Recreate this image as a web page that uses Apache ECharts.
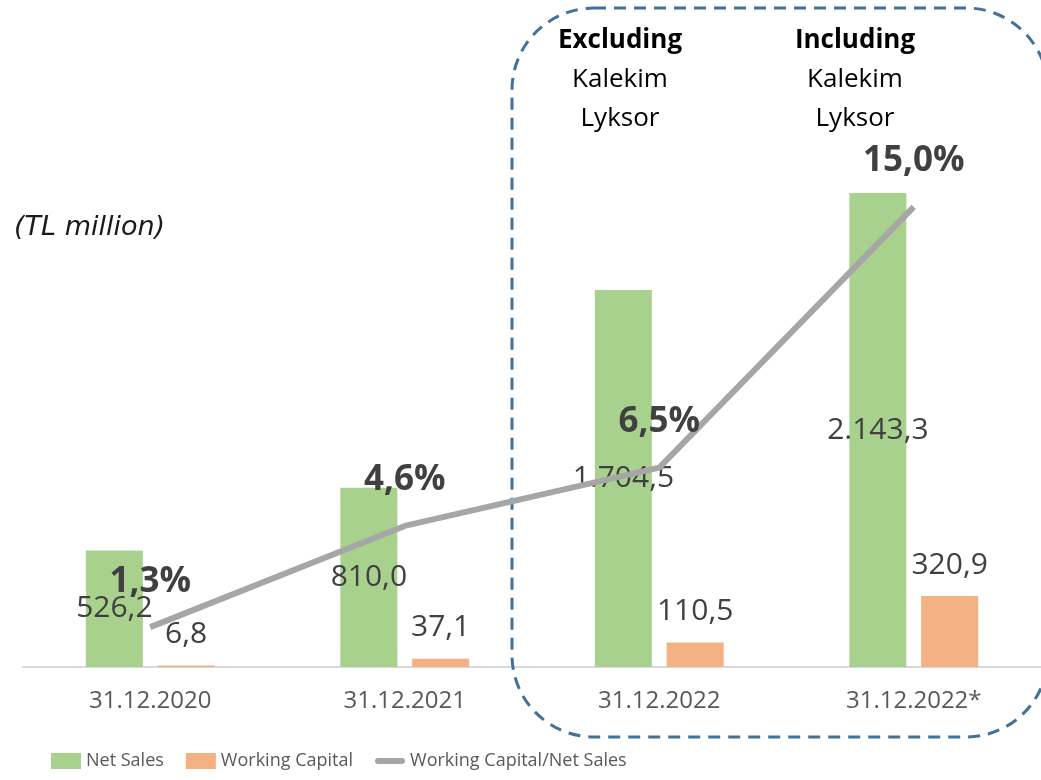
<!DOCTYPE html>
<html>
<head>
<meta charset="utf-8">
<script src="https://cdn.jsdelivr.net/npm/echarts@6/dist/echarts.min.js"></script>
<style>
  html, body { margin: 0; padding: 0; background: #fff; }
  #chart { width: 1041px; height: 780px; }
</style>
</head>
<body>
<div id="chart"></div>
<script>
const categories = ["31.12.2020", "31.12.2021", "31.12.2022", "31.12.2022*"];
const netSales = [526.2, 810.0, 1704.5, 2143.3];
const workingCapital = [6.8, 37.1, 110.5, 320.9];
const wcRatio = [1.3, 4.6, 6.5, 15.0];

// 1704.5 -> "1.704,5"
function trNum(v) {
  const parts = v.toFixed(1).split(".");
  return parts[0].replace(/\B(?=(\d{3})+(?!\d))/g, ".") + "," + parts[1];
}

const chart = echarts.init(document.getElementById("chart"));
const font = "'Open Sans', sans-serif";

const option = {
  animation: false,
  grid: { left: 23, right: -3, top: 30, bottom: 113 },
  legend: {
    bottom: 5,
    left: 46,
    itemWidth: 30,
    itemHeight: 16,
    itemGap: 22,
    textStyle: {
      color: "#595959",
      fontSize: 18,
      fontFamily: "'Liberation Sans Narrow', 'Open Sans', sans-serif",
    },
    data: [
      { name: "Net Sales", icon: "rect" },
      { name: "Working Capital", icon: "rect" },
      {
        name: "Working Capital/Net Sales",
        icon: "path://M3,6 L27,6 A3,3 0 0 1 27,12 L3,12 A3,3 0 0 1 3,6 Z",
      },
    ],
  },
  xAxis: {
    type: "category",
    data: categories,
    axisLine: { lineStyle: { color: "#d9d9d9", width: 2 } },
    axisTick: { show: false },
    axisLabel: { color: "#595959", fontSize: 24, fontFamily: font, margin: 22 },
  },
  yAxis: [
    { type: "value", min: 0, max: 2880, show: false, splitLine: { show: false } },
    { type: "value", min: 0, max: 20.77, show: false, splitLine: { show: false } },
  ],
  series: [
    {
      name: "Net Sales",
      type: "bar",
      data: netSales,
      barWidth: 57,
      barGap: "26%",
      itemStyle: { color: "#a9d18e" },
      label: {
        show: true,
        position: "inside",
        color: "#404040",
        fontSize: 30,
        fontFamily: font,
        formatter: (p) => trNum(p.value),
      },
      z: 2,
    },
    {
      name: "Working Capital",
      type: "bar",
      data: workingCapital,
      barWidth: 57,
      itemStyle: { color: "#f4b183" },
      label: {
        show: true,
        position: "top",
        distance: 16,
        color: "#404040",
        fontSize: 30,
        fontFamily: font,
        formatter: (p) => trNum(p.value),
      },
      z: 2,
    },
    {
      name: "Working Capital/Net Sales",
      type: "line",
      yAxisIndex: 1,
      data: wcRatio,
      symbol: "circle",
      symbolSize: 0.1,
      showSymbol: true,
      lineStyle: { color: "#a6a6a6", width: 6 },
      itemStyle: { color: "#a6a6a6" },
      label: {
        show: true,
        position: "top",
        distance: 28,
        color: "#404040",
        fontSize: 35,
        fontWeight: "bold",
        fontFamily: font,
        formatter: (p) => p.value.toFixed(1).replace(".", ",") + "%",
      },
      z: 3,
    },
  ],
  graphic: [
    {
      type: "rect",
      shape: { x: 512, y: 8, width: 536, height: 729, r: 82 },
      style: { fill: "none", stroke: "#41719c", lineWidth: 3, lineDash: [12, 8] },
      z: 1,
    },
    {
      type: "text",
      left: 14,
      top: 214,
      style: { text: "(TL million)", fill: "#1a1a1a", font: "italic 27px 'DejaVu Sans', sans-serif" },
    },
    {
      type: "text",
      x: 620,
      y: 21,
      style: {
        text: "{b|Excluding}\nKalekim\nLyksor",
        align: "center",
        fill: "#000",
        font: "26px 'Open Sans', sans-serif",
        lineHeight: 39,
        rich: { b: { fontWeight: "bold", fontSize: 26, fontFamily: font, lineHeight: 39 } },
      },
    },
    {
      type: "text",
      x: 855,
      y: 21,
      style: {
        text: "{b|Including}\nKalekim\nLyksor",
        align: "center",
        fill: "#000",
        font: "26px 'Open Sans', sans-serif",
        lineHeight: 39,
        rich: { b: { fontWeight: "bold", fontSize: 26, fontFamily: font, lineHeight: 39 } },
      },
    },
  ],
};

chart.setOption(option);
window.addEventListener("resize", function () {
  chart.resize();
});
</script>
</body>
</html>
